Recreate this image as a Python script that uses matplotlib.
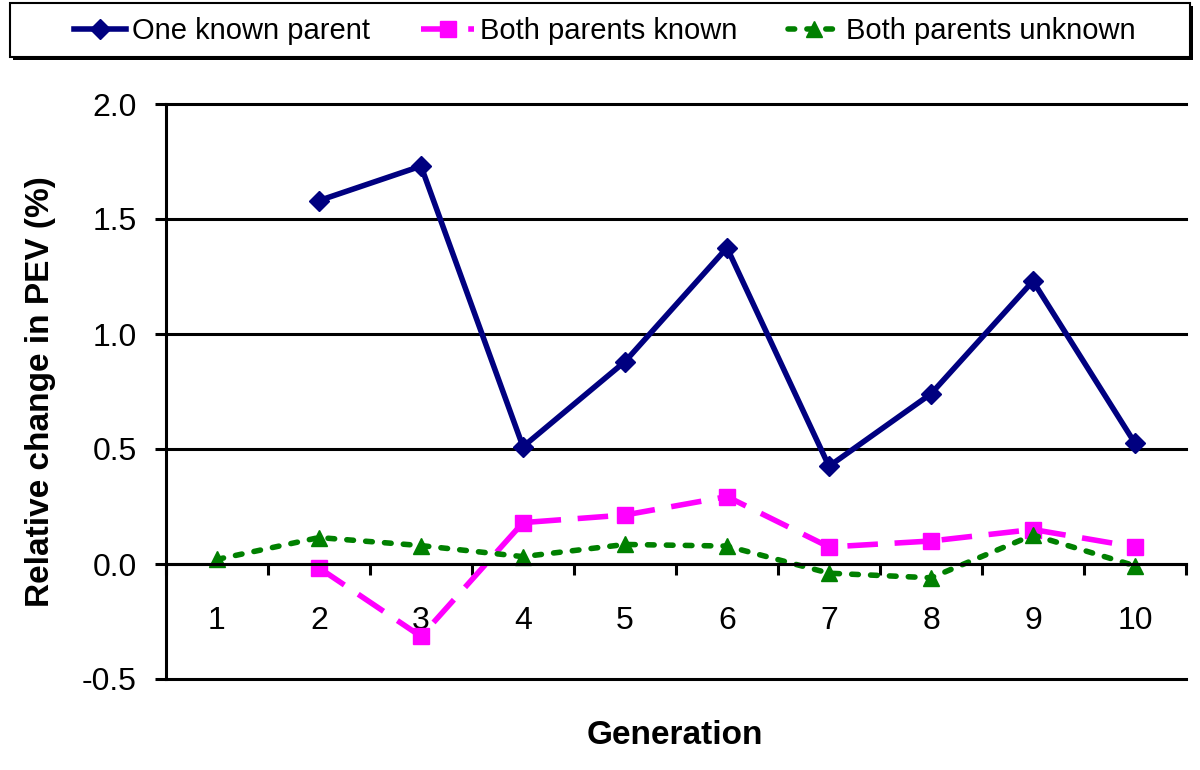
import numpy as np
import matplotlib.pyplot as plt
from matplotlib.patches import Rectangle
from matplotlib.ticker import FixedLocator, NullFormatter, FixedFormatter

plt.rcParams['font.family'] = ['Liberation Sans', 'DejaVu Sans']

# Data
generations = [1, 2, 3, 4, 5, 6, 7, 8, 9, 10]
one_known = [np.nan, 1.58, 1.73, 0.51, 0.88, 1.375, 0.425, 0.74, 1.23, 0.525]
both_known = [np.nan, -0.017, -0.315, 0.18, 0.213, 0.293, 0.074, 0.10, 0.15, 0.074]
both_unknown = [0.02, 0.115, 0.08, 0.032, 0.085, 0.078, -0.04, -0.06, 0.126, -0.008]
y_ticks = [-0.5, 0.0, 0.5, 1.0, 1.5, 2.0]

W, H = 1200, 770
fig = plt.figure(figsize=(12, 7.7), dpi=100)
ax = fig.add_axes([166/W, 1 - 679/H, 1020/W, 575/H])

ax.plot(generations, one_known, color='#000080', lw=4, marker='D', ms=10,
        label='One known parent')
ax.plot(generations, both_known, color='#FF00FF', lw=4, marker='s', ms=12,
        dashes=(5.5, 3), label='Both parents known')
ax.plot(generations, both_unknown, color='#008000', lw=4, marker='^', ms=12,
        dashes=(1.2, 2.2), dash_capstyle='round', label='Both parents unknown')

ax.set_xlim(0.5, 10.5)
ax.set_ylim(-0.5, 2.0)
ax.set_yticks(y_ticks)
ax.set_yticklabels(['%.1f' % v for v in y_ticks])
ax.yaxis.grid(True, color='black', lw=2.2)
for gl in ax.get_ygridlines():
    gl.set_clip_on(False)
ax.set_axisbelow(True)

# x axis sits at y = 0, ticks between the categories
ax.spines['bottom'].set_position(('data', 0))
ax.spines['top'].set_visible(False)
ax.spines['right'].set_visible(False)
for s in ['left', 'bottom']:
    ax.spines[s].set_linewidth(2.2)
ax.xaxis.set_major_locator(FixedLocator(np.arange(0.5, 11, 1)))
ax.xaxis.set_major_formatter(NullFormatter())
ax.xaxis.set_minor_locator(FixedLocator(generations))
ax.xaxis.set_minor_formatter(FixedFormatter([str(g) for g in generations]))
ax.tick_params(axis='x', which='major', length=8, width=2.2, direction='out')
ax.tick_params(axis='x', which='minor', length=0, pad=30, labelsize=23)
ax.tick_params(axis='y', length=8, width=2.2, labelsize=23, pad=13)

ax.set_ylabel('Relative change in PEV (%)', fontsize=24, fontweight='bold')
ax.yaxis.set_label_coords((56 - 166) / 1020, 0.5)
fig.text(675/W, 1 - 735/H, 'Generation', fontsize=24, fontweight='bold',
         ha='center', va='center')

# legend box with a small drop shadow
fig.patches.append(Rectangle((13/W, 1 - 60/H), 1180/W, 54/H, transform=fig.transFigure,
                             facecolor='black', edgecolor='none', zorder=0))
fig.patches.append(Rectangle((10/W, 1 - 57/H), 1180/W, 54/H, transform=fig.transFigure,
                             facecolor='white', edgecolor='black', lw=1.5, zorder=1))
fig.legend(loc='center', bbox_to_anchor=(605/W, 1 - 31/H), ncol=3, fontsize=21,
           frameon=False, handlelength=1.8, handletextpad=0.2, columnspacing=1.75,
           borderaxespad=0)

fig.savefig('out.png', dpi=100)
